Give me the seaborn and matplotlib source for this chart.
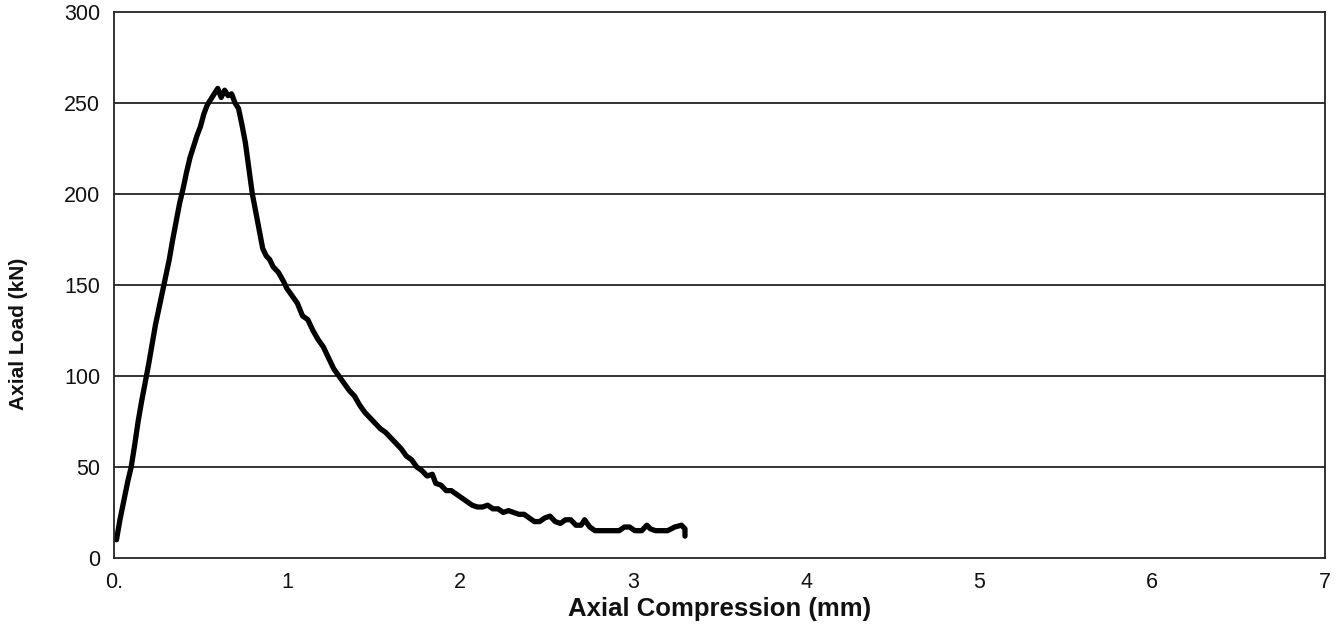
import matplotlib
matplotlib.use("Agg")
import matplotlib.pyplot as plt
import seaborn as sns
import pandas as pd

compression_mm = [0.015, 0.035, 0.05, 0.065, 0.08, 0.10, 0.12, 0.14, 0.16, 0.18,
                  0.20, 0.22, 0.24, 0.26, 0.28, 0.30, 0.32, 0.34, 0.36, 0.38,
                  0.40, 0.42, 0.44, 0.46, 0.48, 0.50, 0.52, 0.54, 0.56, 0.58,
                  0.60, 0.62, 0.64, 0.66, 0.68, 0.70, 0.72, 0.74, 0.76, 0.78,
                  0.80, 0.82, 0.84, 0.86, 0.88, 0.90, 0.92, 0.95, 0.98, 1.00,
                  1.03, 1.06, 1.09, 1.12, 1.15, 1.18, 1.21, 1.24, 1.27, 1.30,
                  1.33, 1.36, 1.39, 1.42, 1.45, 1.48, 1.51, 1.54, 1.57, 1.60,
                  1.63, 1.66, 1.69, 1.72, 1.75, 1.78, 1.81, 1.84, 1.86, 1.89,
                  1.92, 1.95, 1.98, 2.01, 2.04, 2.07, 2.10, 2.13, 2.16, 2.19,
                  2.22, 2.25, 2.28, 2.31, 2.34, 2.37, 2.40, 2.43, 2.46, 2.49,
                  2.52, 2.55, 2.58, 2.61, 2.64, 2.67, 2.70, 2.72, 2.75, 2.78,
                  2.85, 2.92, 2.95, 2.98, 3.01, 3.05, 3.08, 3.10, 3.13, 3.20,
                  3.24, 3.28, 3.30, 3.30]
load_kN = [10, 21, 28, 35, 42, 50, 62, 75, 86, 96,
           106, 117, 128, 137, 146, 155, 164, 175, 185, 195,
           203, 212, 220, 226, 232, 237, 244, 249, 252, 255,
           258, 253, 257, 254, 255, 250, 247, 238, 228, 214,
           200, 190, 180, 170, 166, 164, 160, 157, 152, 148,
           144, 140, 133, 131, 125, 120, 116, 110, 104, 100,
           96, 92, 89, 84, 80, 77, 74, 71, 69, 66,
           63, 60, 56, 54, 50, 48, 45, 46, 41, 40,
           37, 37, 35, 33, 31, 29, 28, 28, 29, 27,
           27, 25, 26, 25, 24, 24, 22, 20, 20, 22,
           23, 20, 19, 21, 21, 18, 18, 21, 17, 15,
           15, 15, 17, 17, 15, 15, 18, 16, 15, 15,
           17, 18, 16, 12]

x_ticks = [0, 1, 2, 3, 4, 5, 6, 7]
x_tick_labels = ["0.", "1", "2", "3", "4", "5", "6", "7"]
y_ticks = [0, 50, 100, 150, 200, 250, 300]

sns.set_style("white")
plt.rcParams['font.family'] = ['Liberation Sans', 'DejaVu Sans']

df = pd.DataFrame({"x": compression_mm, "y": load_kN})

fig = plt.figure(figsize=(13.4, 6.28), dpi=100)
ax = fig.add_axes([0.085, 0.1115, 0.904, 0.8695])

sns.lineplot(data=df, x="x", y="y", sort=False, estimator=None,
             color="black", linewidth=3.8, ax=ax)

ax.set_xlim(0, 7)
ax.set_ylim(0, 300)
ax.set_xticks(x_ticks)
ax.set_xticklabels(x_tick_labels)
ax.set_yticks(y_ticks)
for yv in y_ticks[1:-1]:
    ax.axhline(yv, color="#222222", linewidth=1.3, zorder=0)

for s in ax.spines.values():
    s.set_color("#222222")
    s.set_linewidth(1.3)

ax.tick_params(axis="both", direction="out", length=5, width=1.2,
               color="#222222", labelsize=15.5, colors="#111111")
ax.tick_params(axis="x", pad=5)
ax.tick_params(axis="y", pad=5)

ax.set_xlabel("Axial Compression (mm)", fontsize=18.5, fontweight="bold", color="#111111")
ax.xaxis.label.set_va("center")
ax.xaxis.set_label_coords(0.5, -0.0934)

ax.set_ylabel("Axial Load (kN)", fontsize=15, fontweight="bold", color="#111111")
ax.yaxis.label.set_va("center")
ax.yaxis.set_label_coords(-0.079, 0.41)

fig.savefig("out.png", dpi=100)
